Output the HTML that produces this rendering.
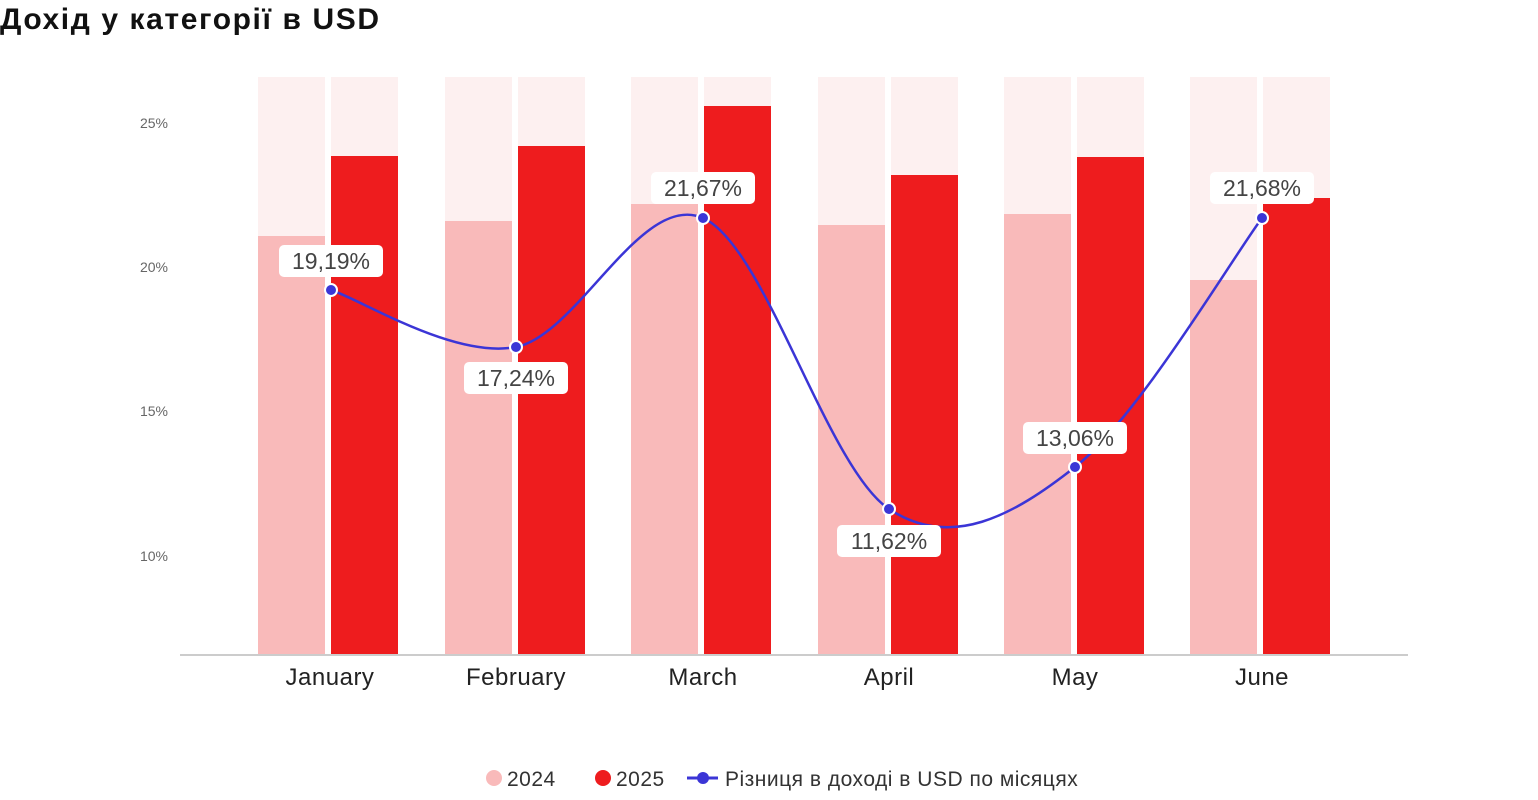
<!DOCTYPE html>
<html><head><meta charset="utf-8"><style>
body{margin:0;width:1538px;height:800px;background:#fff;overflow:hidden;font-family:"Liberation Sans","DejaVu Sans",sans-serif;}
.t{position:absolute;left:0;top:3px;font-size:30px;font-weight:bold;color:#111;letter-spacing:1.6px;}
</style></head><body>
<div class="t">Дохід у категорії в USD</div>
<svg width="1538" height="800" style="position:absolute;left:0;top:0">
<g font-family="Liberation Sans, sans-serif" font-size="14" fill="#666" text-anchor="end">
<text x="168" y="128">25%</text><text x="168" y="272">20%</text><text x="168" y="416">15%</text><text x="168" y="561">10%</text>
</g>
<g id="bars"></g>
<line x1="180" y1="655" x2="1408" y2="655" stroke="#ccc" stroke-width="2"/>
<g font-family="Liberation Sans, sans-serif" font-size="24" fill="#222" text-anchor="middle" letter-spacing="0.5">
<text x="330" y="685">January</text><text x="516" y="685">February</text><text x="703" y="685">March</text><text x="889" y="685">April</text><text x="1075" y="685">May</text><text x="1262" y="685">June</text>
</g>
<path d="M331,290 C362,300 454,359 516,347 C578,335 641,191 703,218 C765,245 827,468 889,509 C951,550 1013,516 1075,467 C1137,419 1231,260 1262,218" fill="none" stroke="#3b35d6" stroke-width="2.5"/>
<g id="lab"></g>
<g font-family="Liberation Sans, sans-serif" font-size="21" fill="#333" letter-spacing="0.5">
<circle cx="494" cy="778" r="8" fill="#f9baba"/><text x="507" y="786">2024</text>
<circle cx="603" cy="778" r="8" fill="#ee1c1e"/><text x="616" y="786">2025</text>
<line x1="687" y1="778" x2="718" y2="778" stroke="#3b35d6" stroke-width="3"/><circle cx="703" cy="778" r="6" fill="#3b35d6"/>
<text x="725" y="786">Різниця в доході в USD по місяцях</text>
</g>
</svg>
<script>
var xs=[258,445,631,818,1004,1190],t24=[236,221,204,225,214,280],t25=[156,146,106,175,157,198];
var g=document.getElementById('bars'),s='';
for(var i=0;i<6;i++){var x=xs[i];
s+='<rect x="'+x+'" y="77" width="67" height="577" fill="#fdf0f0"/><rect x="'+(x+73)+'" y="77" width="67" height="577" fill="#fdf0f0"/>';
s+='<rect x="'+x+'" y="'+t24[i]+'" width="67" height="'+(654-t24[i])+'" fill="#f9baba"/>';
s+='<rect x="'+(x+73)+'" y="'+t25[i]+'" width="67" height="'+(654-t25[i])+'" fill="#ee1c1e"/>';}
g.innerHTML=s;
var pts=[[331,290,261,'19,19%'],[516,347,378,'17,24%'],[703,218,188,'21,67%'],[889,509,541,'11,62%'],[1075,467,438,'13,06%'],[1262,218,188,'21,68%']];
s='';
pts.forEach(function(p){s+='<circle cx="'+p[0]+'" cy="'+p[1]+'" r="6" fill="#3b35d6" stroke="#fff" stroke-width="2"/>';
s+='<rect x="'+(p[0]-52)+'" y="'+(p[2]-16)+'" width="104" height="32" rx="5" fill="#fff"/>';
s+='<text x="'+p[0]+'" y="'+(p[2]+8)+'" text-anchor="middle" font-family="Liberation Sans, sans-serif" font-size="23" fill="#444">'+p[3]+'</text>';});
document.getElementById('lab').innerHTML=s;
</script>
</body></html>
